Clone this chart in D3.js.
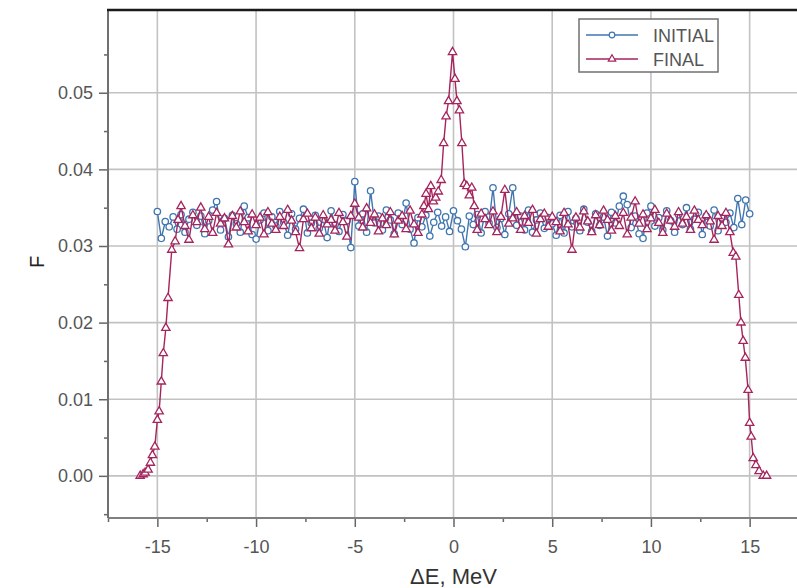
<!DOCTYPE html>
<html>
<head>
<meta charset="utf-8">
<script src="https://cdn.jsdelivr.net/npm/d3@7"></script>
<style>
  body { margin: 0; background: #fff; }
  text { font-family: "Liberation Sans", Arial, sans-serif; }
</style>
</head>
<body>
<div id="chart-container"></div>
<script>
// Energy deviation (MeV) and F values for the INITIAL distribution
const initialE = [
  -15.0,-14.8,-14.6,-14.4,-14.2,-14.0,-13.8,-13.6,-13.4,-13.2,
  -13.0,-12.8,-12.6,-12.4,-12.2,-12.0,-11.8,-11.6,-11.4,-11.2,
  -11.0,-10.8,-10.6,-10.4,-10.2,-10.0,-9.8,-9.6,-9.4,-9.2,
  -9.0,-8.8,-8.6,-8.4,-8.2,-8.0,-7.8,-7.6,-7.4,-7.2,
  -7.0,-6.8,-6.6,-6.4,-6.2,-6.0,-5.8,-5.6,-5.4,-5.2,
  -5.0,-4.8,-4.6,-4.4,-4.2,-4.0,-3.8,-3.6,-3.4,-3.2,
  -3.0,-2.8,-2.6,-2.4,-2.2,-2.0,-1.8,-1.6,-1.4,-1.2,
  -1.0,-0.8,-0.6,-0.4,-0.2,0.0,0.2,0.4,0.6,0.8,
  1.0,1.2,1.4,1.6,1.8,2.0,2.2,2.4,2.6,2.8,
  3.0,3.2,3.4,3.6,3.8,4.0,4.2,4.4,4.6,4.8,
  5.0,5.2,5.4,5.6,5.8,6.0,6.2,6.4,6.6,6.8,
  7.0,7.2,7.4,7.6,7.8,8.0,8.2,8.4,8.6,8.8,
  9.0,9.2,9.4,9.6,9.8,10.0,10.2,10.4,10.6,10.8,
  11.0,11.2,11.4,11.6,11.8,12.0,12.2,12.4,12.6,12.8,
  13.0,13.2,13.4,13.6,13.8,14.0,14.2,14.4,14.6,14.8,
  15.0
];
const initialF = [
  .0345,.0310,.0332,.0325,.0338,.0322,.0341,.0318,.0335,.0344,
  .0327,.0339,.0316,.0333,.0347,.0358,.0321,.0336,.0312,.0340,
  .0329,.0318,.0352,.0337,.0315,.0309,.0334,.0343,.0320,.0338,
  .0326,.0345,.0331,.0314,.0342,.0322,.0336,.0348,.0317,.0330,
  .0340,.0323,.0335,.0311,.0346,.0328,.0319,.0341,.0333,.0298,
  .0384,.0326,.0342,.0318,.0372,.0330,.0339,.0321,.0347,.0334,
  .0316,.0343,.0328,.0356,.0322,.0304,.0337,.0325,.0340,.0313,
  .0331,.0344,.0326,.0338,.0319,.0346,.0333,.0322,.0299,.0339,
  .0328,.0341,.0317,.0345,.0330,.0376,.0324,.0336,.0315,.0342,
  .0376,.0327,.0339,.0321,.0347,.0318,.0334,.0343,.0323,.0337,
  .0329,.0314,.0340,.0317,.0345,.0325,.0336,.0320,.0348,.0331,
  .0319,.0342,.0327,.0338,.0313,.0344,.0330,.0352,.0365,.0354,
  .0324,.0339,.0316,.0310,.0343,.0352,.0326,.0337,.0321,.0346,
  .0333,.0318,.0341,.0328,.0350,.0322,.0335,.0344,.0315,.0339,
  .0326,.0347,.0320,.0337,.0331,.0343,.0324,.0362,.0328,.0360,
  .0342
];

// Energy deviation (MeV) and F values for the FINAL distribution
const finalE = [
  -15.87,-15.72,-15.62,-15.47,-15.35,-15.25,-15.13,-15.00,-14.91,-14.80,
  -14.70,-14.57,-14.46,-14.27,-14.10,-13.95,-13.80,
  -13.6,-13.4,-13.2,-13.0,-12.8,-12.6,-12.4,-12.2,-12.0,-11.8,
  -11.6,-11.4,-11.2,-11.0,-10.8,-10.6,-10.4,-10.2,-10.0,-9.8,
  -9.6,-9.4,-9.2,-9.0,-8.8,-8.6,-8.4,-8.2,-8.0,-7.8,
  -7.6,-7.4,-7.2,-7.0,-6.8,-6.6,-6.4,-6.2,-6.0,-5.8,
  -5.6,-5.4,-5.2,-5.0,-4.8,-4.6,-4.4,-4.2,-4.0,-3.8,
  -3.6,-3.4,-3.2,-3.0,-2.8,-2.6,-2.4,-2.2,-2.0,-1.8,
  -1.6,-1.50,-1.39,-1.27,-1.15,-1.02,-0.90,-0.77,-0.625,-0.50,
  -0.375,-0.25,-0.05,0.075,0.175,0.30,0.425,0.55,0.675,0.80,
  0.925,1.05,1.20,
  1.4,1.6,1.8,2.0,2.2,2.4,2.6,2.8,3.0,3.2,
  3.4,3.6,3.8,4.0,4.2,4.4,4.6,4.8,5.0,5.2,
  5.4,5.6,5.8,6.0,6.2,6.4,6.6,6.8,7.0,7.2,
  7.4,7.6,7.8,8.0,8.2,8.4,8.6,8.8,9.0,9.2,
  9.4,9.6,9.8,10.0,10.2,10.4,10.6,10.8,11.0,11.2,
  11.4,11.6,11.8,12.0,12.2,12.4,12.6,12.8,13.0,13.2,
  13.4,13.6,13.8,14.0,
  14.17,14.30,14.45,14.56,14.67,14.78,14.92,15.00,15.08,15.18,
  15.32,15.48,15.69,15.86
];
const finalF = [
  .0000,.0002,.0004,.0008,.0017,.0027,.0038,.0073,.0084,.0123,
  .0160,.0193,.0232,.0295,.0306,.0334,.0352,
  .0326,.0308,.0340,.0331,.0350,.0322,.0338,.0317,.0343,.0329,
  .0336,.0302,.0339,.0324,.0345,.0331,.0319,.0341,.0327,.0337,
  .0315,.0344,.0329,.0321,.0338,.0326,.0347,.0333,.0318,.0297,
  .0335,.0342,.0323,.0337,.0316,.0340,.0328,.0334,.0320,.0343,
  .0331,.0312,.0339,.0355,.0337,.0324,.0349,.0330,.0341,.0319,
  .0336,.0327,.0344,.0315,.0333,.0339,.0322,.0346,.0328,.0317,
  .0341,.0352,.0368,.0348,.0378,.0358,.0363,.0371,.0386,.0434,
  .0469,.0489,.0553,.0518,.0489,.0477,.0434,.0381,.0378,.0366,
  .0376,.0352,.0321,
  .0342,.0335,.0327,.0345,.0318,.0338,.0373,.0329,.0336,.0344,
  .0321,.0339,.0330,.0347,.0316,.0335,.0342,.0325,.0338,.0331,
  .0319,.0343,.0328,.0295,.0337,.0324,.0345,.0332,.0318,.0340,
  .0327,.0346,.0334,.0320,.0339,.0326,.0343,.0315,.0337,.0358,
  .0329,.0341,.0322,.0336,.0347,.0330,.0317,.0342,.0333,.0325,
  .0344,.0329,.0338,.0321,.0346,.0334,.0327,.0340,.0332,.0308,
  .0339,.0326,.0343,.0318,
  .0291,.0286,.0236,.0200,.0176,.0154,.0112,.0069,.0051,.0023,
  .0014,.0006,.0000,.0000
];

// Axis ticks
const xTicks = [-15, -10, -5, 0, 5, 10, 15];
const xTickLabels = ["-15", "-10", "-5", "0", "5", "10", "15"];
const xMinorTicks = [-17.5, -12.5, -7.5, -2.5, 2.5, 7.5, 12.5];
const yTicks = [0, 0.01, 0.02, 0.03, 0.04, 0.05];
const yMinorTicks = [-0.005, 0.005, 0.015, 0.025, 0.035, 0.045, 0.055];

const seriesNames = ["INITIAL", "FINAL"];
const colors = { "INITIAL": "#3f76b0", "FINAL": "#a5245c" };

// Chart size and plot area (right side of the plot runs off the page)
const W = 797, H = 588;
const plot = { left: 108, top: 10, right: 799, bottom: 518 };

const svg = d3.select("#chart-container").append("svg")
    .attr("width", W)
    .attr("height", H);

svg.append("rect").attr("width", W).attr("height", H).attr("fill", "#fff");

const x = d3.scaleLinear().domain([-17.5, 17.5]).range([plot.left, plot.right]);
const y = d3.scaleLinear().domain([-0.0055, 0.0608]).range([plot.bottom, plot.top]);

// Grid lines
svg.append("g").selectAll("line")
    .data(xTicks)
    .enter().append("line")
    .attr("x1", d => x(d)).attr("x2", d => x(d))
    .attr("y1", plot.top).attr("y2", plot.bottom)
    .attr("stroke", "#c2c2c2").attr("stroke-width", 1.6);

svg.append("g").selectAll("line")
    .data(yTicks)
    .enter().append("line")
    .attr("x1", plot.left).attr("x2", W)
    .attr("y1", d => y(d)).attr("y2", d => y(d))
    .attr("stroke", "#c2c2c2").attr("stroke-width", 1.6);

// Axes (major and minor ticks)
function styleAxis(g) {
    g.select(".domain").remove();
    g.selectAll(".tick line").attr("stroke", "#666").attr("stroke-width", 1.5);
    g.selectAll(".tick text")
        .attr("fill", "#555")
        .style("font-size", "18px")
        .style("font-family", "'Liberation Sans', Arial, sans-serif");
}

svg.append("g")
    .attr("transform", "translate(0," + plot.bottom + ")")
    .call(d3.axisBottom(x).tickValues(xTicks).tickSize(9).tickPadding(13)
        .tickFormat((d, i) => xTickLabels[i]))
    .call(styleAxis);

svg.append("g")
    .attr("transform", "translate(0," + plot.bottom + ")")
    .call(d3.axisBottom(x).tickValues(xMinorTicks).tickSize(4).tickFormat(""))
    .call(styleAxis);

svg.append("g")
    .attr("transform", "translate(" + plot.left + ",0)")
    .call(d3.axisLeft(y).tickValues(yTicks).tickSize(9).tickPadding(6).tickFormat(d3.format(".2f")))
    .call(styleAxis);

svg.append("g")
    .attr("transform", "translate(" + plot.left + ",0)")
    .call(d3.axisLeft(y).tickValues(yMinorTicks).tickSize(4).tickFormat(""))
    .call(styleAxis);

// Plot frame: dark top border, grey left and bottom axis lines
svg.append("line")
    .attr("x1", plot.left).attr("x2", W)
    .attr("y1", plot.bottom).attr("y2", plot.bottom)
    .attr("stroke", "#808080").attr("stroke-width", 2);
svg.append("line")
    .attr("x1", plot.left).attr("x2", plot.left)
    .attr("y1", plot.top).attr("y2", plot.bottom)
    .attr("stroke", "#707070").attr("stroke-width", 2);
svg.append("line")
    .attr("x1", plot.left - 1).attr("x2", W)
    .attr("y1", plot.top).attr("y2", plot.top)
    .attr("stroke", "#1a1a1a").attr("stroke-width", 2.5);

// Series data
const initialData = initialE.map((e, i) => ({ e: e, f: initialF[i] }));
const finalData = finalE.map((e, i) => ({ e: e, f: finalF[i] }));

const line = d3.line().x(d => x(d.e)).y(d => y(d.f));
const triangle = d3.symbol().type(d3.symbolTriangle).size(30);

function drawSeries(data, name) {
    const g = svg.append("g");
    g.append("path")
        .datum(data)
        .attr("d", line)
        .attr("fill", "none")
        .attr("stroke", colors[name])
        .attr("stroke-width", 1.4);

    if (name === "INITIAL") {
        g.selectAll("circle")
            .data(data)
            .enter().append("circle")
            .attr("cx", d => x(d.e))
            .attr("cy", d => y(d.f))
            .attr("r", 3.2)
            .attr("fill", "#fff")
            .attr("stroke", colors[name])
            .attr("stroke-width", 1.3);
    } else {
        g.selectAll("path.mk")
            .data(data)
            .enter().append("path")
            .attr("class", "mk")
            .attr("d", triangle)
            .attr("transform", d => "translate(" + x(d.e) + "," + y(d.f) + ")")
            .attr("fill", "#fff")
            .attr("stroke", colors[name])
            .attr("stroke-width", 1.3);
    }
}

drawSeries(initialData, "INITIAL");
drawSeries(finalData, "FINAL");

// Axis titles
svg.append("text")
    .attr("x", 453.5)
    .attr("y", 584)
    .attr("text-anchor", "middle")
    .attr("fill", "#333")
    .style("font-size", "22px")
    .text("\u0394E, MeV");

svg.append("text")
    .attr("transform", "translate(44,262) rotate(-90)")
    .attr("text-anchor", "middle")
    .attr("fill", "#222")
    .style("font-size", "20px")
    .text("F");

// Legend
const legend = svg.append("g").attr("class", "legend");

legend.append("rect")
    .attr("x", 579).attr("y", 19)
    .attr("width", 139).attr("height", 53)
    .attr("fill", "#fff")
    .attr("stroke", "#707070")
    .attr("stroke-width", 1.5);

seriesNames.forEach((name, i) => {
    const ly = 35 + i * 24;
    legend.append("line")
        .attr("x1", 586).attr("x2", 638)
        .attr("y1", ly).attr("y2", ly)
        .attr("stroke", colors[name]).attr("stroke-width", 1.5);
    if (name === "INITIAL") {
        legend.append("circle")
            .attr("cx", 612).attr("cy", ly).attr("r", 2.8)
            .attr("fill", "#fff").attr("stroke", colors[name]).attr("stroke-width", 1.2);
    } else {
        legend.append("path")
            .attr("d", d3.symbol().type(d3.symbolTriangle).size(24))
            .attr("transform", "translate(612," + ly + ")")
            .attr("fill", "#fff").attr("stroke", colors[name]).attr("stroke-width", 1.2);
    }
    legend.append("text")
        .attr("x", 653)
        .attr("y", ly + 6.5)
        .attr("fill", "#555")
        .style("font-size", "18px")
        .text(name);
});
</script>
</body>
</html>
